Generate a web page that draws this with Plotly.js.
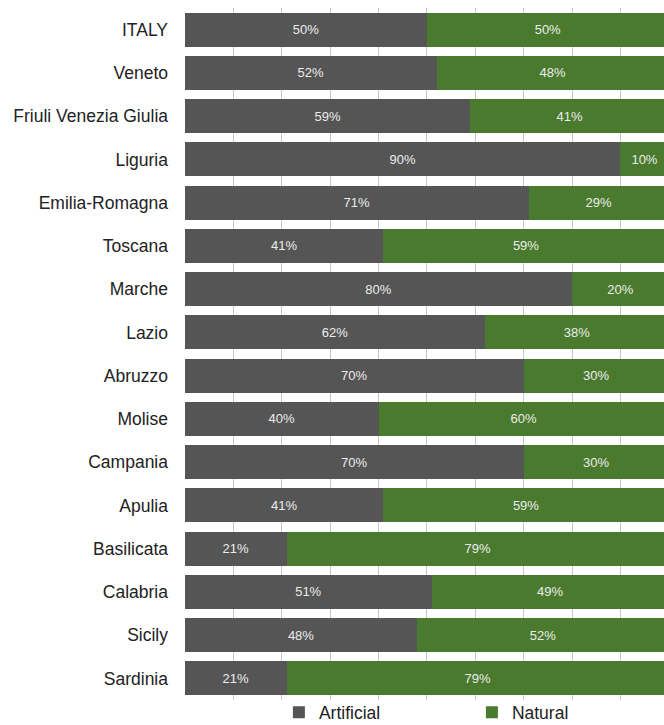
<!DOCTYPE html>
<html>
<head>
<meta charset="utf-8">
<script src="https://cdn.plot.ly/plotly-3.0.1.min.js"></script>
<style>html,body{margin:0;padding:0;background:#fff;}#chart{width:664px;height:725px;}</style>
</head>
<body>
<div id="chart"></div>
<script>
const regions = ["ITALY","Veneto","Friuli Venezia Giulia","Liguria","Emilia-Romagna","Toscana","Marche","Lazio","Abruzzo","Molise","Campania","Apulia","Basilicata","Calabria","Sicily","Sardinia"];
const artificial = [50,52,59,90,71,41,80,62,70,40,70,41,21,51,48,21];
const natural = [50,48,41,10,29,59,20,38,30,60,30,59,79,49,52,79];
const seriesNames = ["Artificial","Natural"];
const seriesColors = ["#555555","#4a7a2e"];

function mk(vals, i){
  return {
    type:'bar', orientation:'h', name:seriesNames[i],
    y:regions, x:vals,
    marker:{color:seriesColors[i], line:{width:0}},
    text: vals.map(v=>v+'%'), textposition:'inside', insidetextanchor:'middle',
    textfont:{family:'Liberation Sans, Arial, sans-serif', size:13, color:'#ececec'},
    hoverinfo:'skip', cliponaxis:true
  };
}
const data=[mk(artificial,0), mk(natural,1)];
const layout={
  width:664, height:725,
  margin:{l:185, r:0, t:8, b:25, pad:0, autoexpand:false},
  barmode:'stack', bargap:0.21,
  paper_bgcolor:'#fff', plot_bgcolor:'#fff',
  font:{family:'Liberation Sans, Arial, sans-serif', color:'#222'},
  xaxis:{range:[0,99], showgrid:true, gridcolor:'#c8c8c8', gridwidth:1, dtick:10,
    showticklabels:false, zeroline:false, showline:false, ticks:'', fixedrange:true},
  yaxis:{autorange:'reversed', showgrid:false, zeroline:false, showline:false,
    tickfont:{size:17.5, color:'#222'}, ticks:'', ticklabelstandoff:16},
  showlegend:true,
  legend:{orientation:'h', x:0.196, xanchor:'left', y:0.008, yanchor:'top',
    bgcolor:'rgba(0,0,0,0)',
    font:{size:17.5, color:'#222'}, entrywidth:148, entrywidthmode:'pixels', traceorder:'normal'}
};
Plotly.newPlot('chart', data, layout, {displayModeBar:false, staticPlot:true});
</script>
</body>
</html>
